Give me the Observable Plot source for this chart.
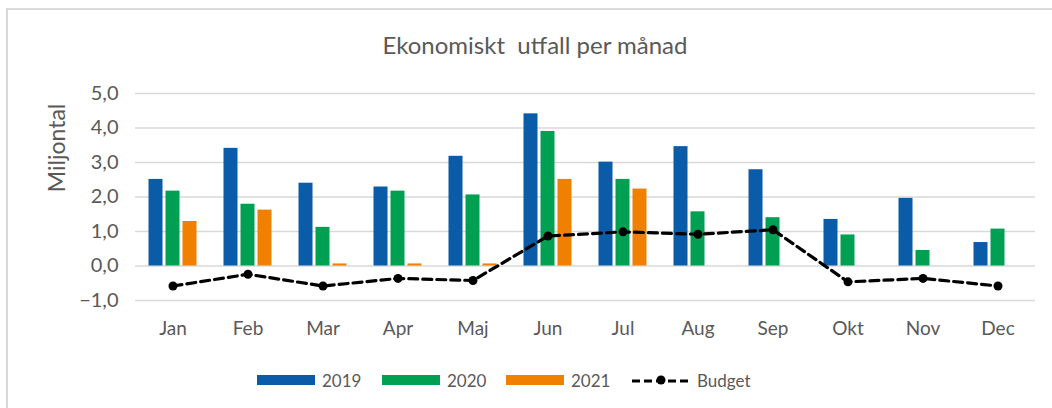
<!DOCTYPE html>
<html><head><meta charset="utf-8">
<script src="https://cdn.jsdelivr.net/npm/d3@7"></script>
<script src="https://cdn.jsdelivr.net/npm/@observablehq/plot@0.6"></script>
<style>
body{margin:0;background:#fff;font-family:Lato,"Open Sans",sans-serif;color:#595959;}
#wrap{position:relative;width:1052px;height:408px;overflow:hidden;}
#border{position:absolute;left:6px;top:8px;width:1100px;height:460px;border:2px solid #d9d9d9;box-sizing:border-box;}
#title{position:absolute;left:0;top:30px;width:1070px;text-align:center;font-size:24px;color:#595959;}
#chart{position:absolute;left:0;top:70px;}
#ylab{position:absolute;left:56px;top:148px;transform:translate(-50%,-50%) rotate(-90deg);font-size:23px;color:#595959;white-space:nowrap;}
#legend{position:absolute;top:368px;left:0;width:1052px;height:24px;}
.li{position:absolute;top:0;height:24px;display:flex;align-items:center;font-size:17px;color:#595959;}
.sw{width:58px;height:10px;margin-right:7px;}
</style></head>
<body>
<div id="wrap">
<div id="border"></div>
<div id="title">Ekonomiskt&nbsp; utfall per månad</div>
<div id="chart"></div>
<div id="ylab">Miljontal</div>
<div id="legend"></div>
</div>
<script>
const months = ["Jan","Feb","Mar","Apr","Maj","Jun","Jul","Aug","Sep","Okt","Nov","Dec"];
const v2019 = [2.51,3.41,2.40,2.29,3.18,4.41,3.01,3.46,2.79,1.35,1.96,0.68];
const v2020 = [2.17,1.79,1.12,2.17,2.06,3.90,2.51,1.57,1.40,0.90,0.45,1.07];
const v2021 = [1.29,1.62,0.06,0.06,0.06,2.51,2.23,null,null,null,null,null];
const budget = [-0.58,-0.24,-0.58,-0.36,-0.42,0.87,0.99,0.92,1.05,-0.46,-0.36,-0.58];
const seriesNames = ["2019","2020","2021"];
const seriesColors = ["#0a5ba8","#00a052","#f08000"];
const yTicks = [-1,0,1,2,3,4,5];

const rows = (vals) => months.map((m,i)=>({month:m, value:vals[i]})).filter(d=>d.value!=null);
const budgetRows = months.map((m,i)=>({month:m, value:budget[i]}));

const barW = 14, step = 17;
const bandW = 75;
const inset = (bandW - barW)/2;
const barMark = (vals, k) => Plot.barY(rows(vals), {
  x:"month", y:"value", fill: seriesColors[k],
  insetLeft: inset, insetRight: inset, dx: (k-1)*step
});

const chart = Plot.plot({
  width: 1052, height: 280,
  marginLeft: 135, marginRight: 17, marginTop: 23, marginBottom: 50,
  style:{fontFamily:"Lato, 'Open Sans', sans-serif", color:"#595959", background:"transparent"},
  x:{domain: months, padding: 0, label:null},
  y:{domain:[-1,5], label:null},
  marks:[
    Plot.ruleY(yTicks, {stroke:"#d9d9d9", strokeWidth:1.3}),
    Plot.axisY({ticks:yTicks, tickFormat: d=>d3.format(".1f")(d).replace(".",","), tickSize:0, tickPadding:17, fontSize:20, label:null}),
    Plot.axisX({tickSize:0, tickPadding:21, fontSize:19, label:null}),
    barMark(v2019,0), barMark(v2020,1), barMark(v2021,2),
    Plot.line(budgetRows, {x:"month", y:"value", stroke:"#000", strokeWidth:3.2, strokeDasharray:"9,5"}),
    Plot.dot(budgetRows, {x:"month", y:"value", fill:"#000", r:4.5})
  ]
});
document.getElementById("chart").appendChild(chart);

const leg = document.getElementById("legend");
const lefts = [257,382,506];
seriesNames.forEach((s,i)=>{
  const d = document.createElement("div");
  d.className="li"; d.style.left = lefts[i]+"px";
  d.innerHTML = `<div class="sw" style="background:${seriesColors[i]}"></div><span>${s}</span>`;
  leg.appendChild(d);
});
const b = document.createElement("div");
b.className="li"; b.style.left="631px";
b.innerHTML = `<svg width="60" height="24" style="margin-right:6px"><line x1="1" y1="13" x2="58" y2="13" stroke="#000" stroke-width="3" stroke-dasharray="8,4"/><circle cx="30" cy="12" r="4.5" fill="#000"/></svg><span>Budget</span>`;
leg.appendChild(b);
</script>
</body></html>
